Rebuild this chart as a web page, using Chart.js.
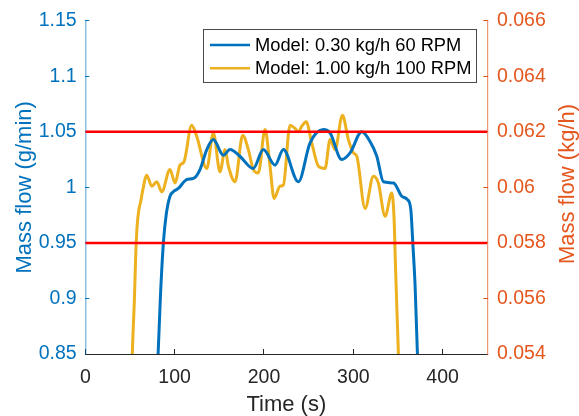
<!DOCTYPE html>
<html>
<head>
<meta charset="utf-8">
<script src="https://cdn.jsdelivr.net/npm/chart.js@4.4.1/dist/chart.umd.min.js"></script>
<style>
  html, body { margin: 0; padding: 0; background: #ffffff; }
  #wrap { width: 579px; height: 416px; }
</style>
</head>
<body>
<div id="wrap"><canvas id="c" width="579" height="416"></canvas></div>
<script>
// ---- data ----
const seriesLabels = ['Model: 0.30 kg/h 60 RPM', 'Model: 1.00 kg/h 100 RPM'];

const timeBlue = [78, 81.5, 84, 87.4, 90.5, 94.8, 98.5, 104.2, 113.5, 121, 128.4, 136, 143.3, 154.5, 162, 173, 188, 199.3, 212.4, 221.7, 238.5, 251.6, 266.5, 274, 287, 296.4, 309.5, 318.9, 326.3, 333.7, 345, 354.3, 360.6, 364.4, 366.6, 369.2, 371.8, 374];
const flowBlue = [0.75, 0.85, 0.90, 0.95, 0.975, 0.992, 0.996, 0.999, 1.007, 1.008, 1.016, 1.034, 1.043, 1.029, 1.034, 1.028, 1.017, 1.034, 1.020, 1.034, 1.005, 1.040, 1.052, 1.049, 1.025, 1.031, 1.050, 1.041, 1.028, 1.005, 1.004, 0.992, 0.989, 0.980, 0.950, 0.911, 0.85, 0.78];

const timeOrange = [51, 52.6, 55, 56.5, 58, 60, 62, 64, 68.8, 74.4, 80, 85.6, 94.8, 100.4, 106, 110.5, 119.1, 124.7, 136, 143.3, 150.8, 156.4, 160.2, 167.6, 176.2, 182.5, 188.1, 193.7, 201.2, 206.8, 211.3, 218, 221.7, 229.2, 234.8, 238.5, 242.3, 247.2, 253.5, 261, 268.4, 274, 279.6, 287.8, 294.5, 300.1, 303.9, 313.2, 322.5, 328, 335.6, 343.1, 345.7, 347, 348.8, 350.5, 352];
const flowOrange = [0.052, 0.054, 0.056, 0.0576, 0.0586, 0.0592, 0.05948, 0.05984, 0.06044, 0.06004, 0.0602, 0.05984, 0.06064, 0.06016, 0.0608, 0.06092, 0.06224, 0.06184, 0.06068, 0.06196, 0.06056, 0.06136, 0.06076, 0.0602, 0.06188, 0.06136, 0.06064, 0.06052, 0.06208, 0.06076, 0.0596, 0.06004, 0.06008, 0.06224, 0.06212, 0.062, 0.0622, 0.06236, 0.0616, 0.06076, 0.06068, 0.06172, 0.06136, 0.0626, 0.06172, 0.06124, 0.06112, 0.05924, 0.0604, 0.06016, 0.05896, 0.0598, 0.05884, 0.0574, 0.0556, 0.054, 0.052];

const limitUpper = 1.05;
const limitLower = 0.95;
const limitSpan = [0, 450];

const xTicks = [0, 100, 200, 300, 400];
const leftTicks = [0.85, 0.9, 0.95, 1, 1.05, 1.1, 1.15];
const rightTicks = [0.054, 0.056, 0.058, 0.06, 0.062, 0.064, 0.066];

const xTitle = 'Time (s)';
const leftTitle = 'Mass flow (g/min)';
const rightTitle = 'Mass flow (kg/h)';

// ---- styles ----
const FONT = '"Liberation Sans", Arial, Helvetica, sans-serif';
const BLUE = '#0072BD';
const ORANGE = '#EDB120';
const RIGHTC = '#E5561D';
const DARK = '#262626';

const pts = (xs, ys) => xs.map((x, i) => ({ x: x, y: ys[i] }));

const legendBoxPlugin = {
  id: 'legendBox',
  afterDatasetsDraw(chart) {
    const ctx = chart.ctx;
    const bx = 203.5, by = 29.5, bw = 273, bh = 53;
    ctx.save();
    ctx.fillStyle = '#ffffff';
    ctx.fillRect(bx, by, bw, bh);
    ctx.strokeStyle = '#4a4a4a';
    ctx.lineWidth = 1;
    ctx.strokeRect(bx, by, bw, bh);
    const items = chart.data.datasets.filter(d => d.showInLegend);
    ctx.font = '18.3px ' + FONT;
    ctx.textBaseline = 'middle';
    ctx.textAlign = 'left';
    items.forEach((d, i) => {
      const y = 45 + i * 23.3;
      ctx.strokeStyle = d.borderColor;
      ctx.lineWidth = 2.5;
      ctx.beginPath();
      ctx.moveTo(210, y);
      ctx.lineTo(250, y);
      ctx.stroke();
      ctx.fillStyle = '#000000';
      ctx.fillText(d.label, 255, y + 1);
    });
    ctx.restore();
  },
  afterDraw(chart) {
    const ctx = chart.ctx;
    ctx.save();
    ctx.translate(567.5, 184);
    ctx.rotate(-Math.PI / 2);
    ctx.font = '22px ' + FONT;
    ctx.fillStyle = RIGHTC;
    ctx.textAlign = 'center';
    ctx.textBaseline = 'middle';
    ctx.fillText(rightTitle, 0, 0);
    ctx.restore();
  }
};

new Chart(document.getElementById('c'), {
  type: 'line',
  data: {
    datasets: [
      { label: 'upper', data: pts(limitSpan, [limitUpper, limitUpper]), yAxisID: 'y', borderColor: '#FF0000', borderWidth: 2.5, pointRadius: 0, tension: 0, showInLegend: false },
      { label: 'lower', data: pts(limitSpan, [limitLower, limitLower]), yAxisID: 'y', borderColor: '#FF0000', borderWidth: 2.5, pointRadius: 0, tension: 0, showInLegend: false },
      { label: seriesLabels[0], data: pts(timeBlue, flowBlue), yAxisID: 'y', borderColor: BLUE, borderWidth: 3, pointRadius: 0, cubicInterpolationMode: 'monotone', clip: 0, showInLegend: true },
      { label: seriesLabels[1], data: pts(timeOrange, flowOrange), yAxisID: 'y1', borderColor: ORANGE, borderWidth: 3, pointRadius: 0, cubicInterpolationMode: 'monotone', clip: 0, showInLegend: true }
    ]
  },
  options: {
    responsive: false,
    animation: false,
    events: [],
    layout: { padding: { top: 20.7, left: 0, right: 0, bottom: 0 } },
    plugins: { legend: { display: false }, tooltip: { enabled: false } },
    scales: {
      x: {
        type: 'linear', position: 'bottom', min: 0, max: 450,
        afterBuildTicks: (s) => { s.ticks = xTicks.map(v => ({ value: v })); },
        afterFit: (s) => { s.height = 62; s.paddingLeft = 0; s.paddingRight = 0; },
        ticks: { color: DARK, font: { family: FONT, size: 19.5 }, padding: 16.5, maxRotation: 0, callback: (v) => String(v) },
        grid: { drawOnChartArea: false, tickLength: -5, tickColor: DARK, tickWidth: 1 },
        border: { display: true, color: DARK, width: 1 },
        title: { display: true, text: xTitle, color: DARK, font: { family: FONT, size: 22 }, padding: { top: 0, bottom: -1.8 } }
      },
      y: {
        type: 'linear', position: 'left', min: 0.85, max: 1.15,
        afterBuildTicks: (s) => { s.ticks = leftTicks.map(v => ({ value: v })); },
        afterFit: (s) => { s.width = 85.3; s.paddingTop = 0; s.paddingBottom = 0; },
        ticks: { color: BLUE, font: { family: FONT, size: 19.5 }, padding: 12.6, callback: (v) => String(v) },
        grid: { drawOnChartArea: false, tickLength: -4, tickColor: BLUE, tickWidth: 1 },
        border: { display: true, color: 'rgba(0,114,189,0.45)', width: 1.5 },
        title: { display: true, text: leftTitle, color: BLUE, font: { family: FONT, size: 22 }, padding: { top: 12, bottom: 0 } }
      },
      y1: {
        type: 'linear', position: 'right', min: 0.054, max: 0.066,
        afterBuildTicks: (s) => { s.ticks = rightTicks.map(v => ({ value: v })); },
        afterFit: (s) => { s.width = 91.7; s.paddingTop = 0; s.paddingBottom = 0; },
        ticks: { color: RIGHTC, font: { family: FONT, size: 19.5 }, padding: 13.7, callback: (v) => String(v) },
        grid: { drawOnChartArea: false, tickLength: -4, tickColor: RIGHTC, tickWidth: 1 },
        border: { display: true, color: 'rgba(229,86,29,0.6)', width: 1.2 },
        title: { display: false }
      }
    }
  },
  plugins: [legendBoxPlugin]
});
</script>
</body>
</html>
